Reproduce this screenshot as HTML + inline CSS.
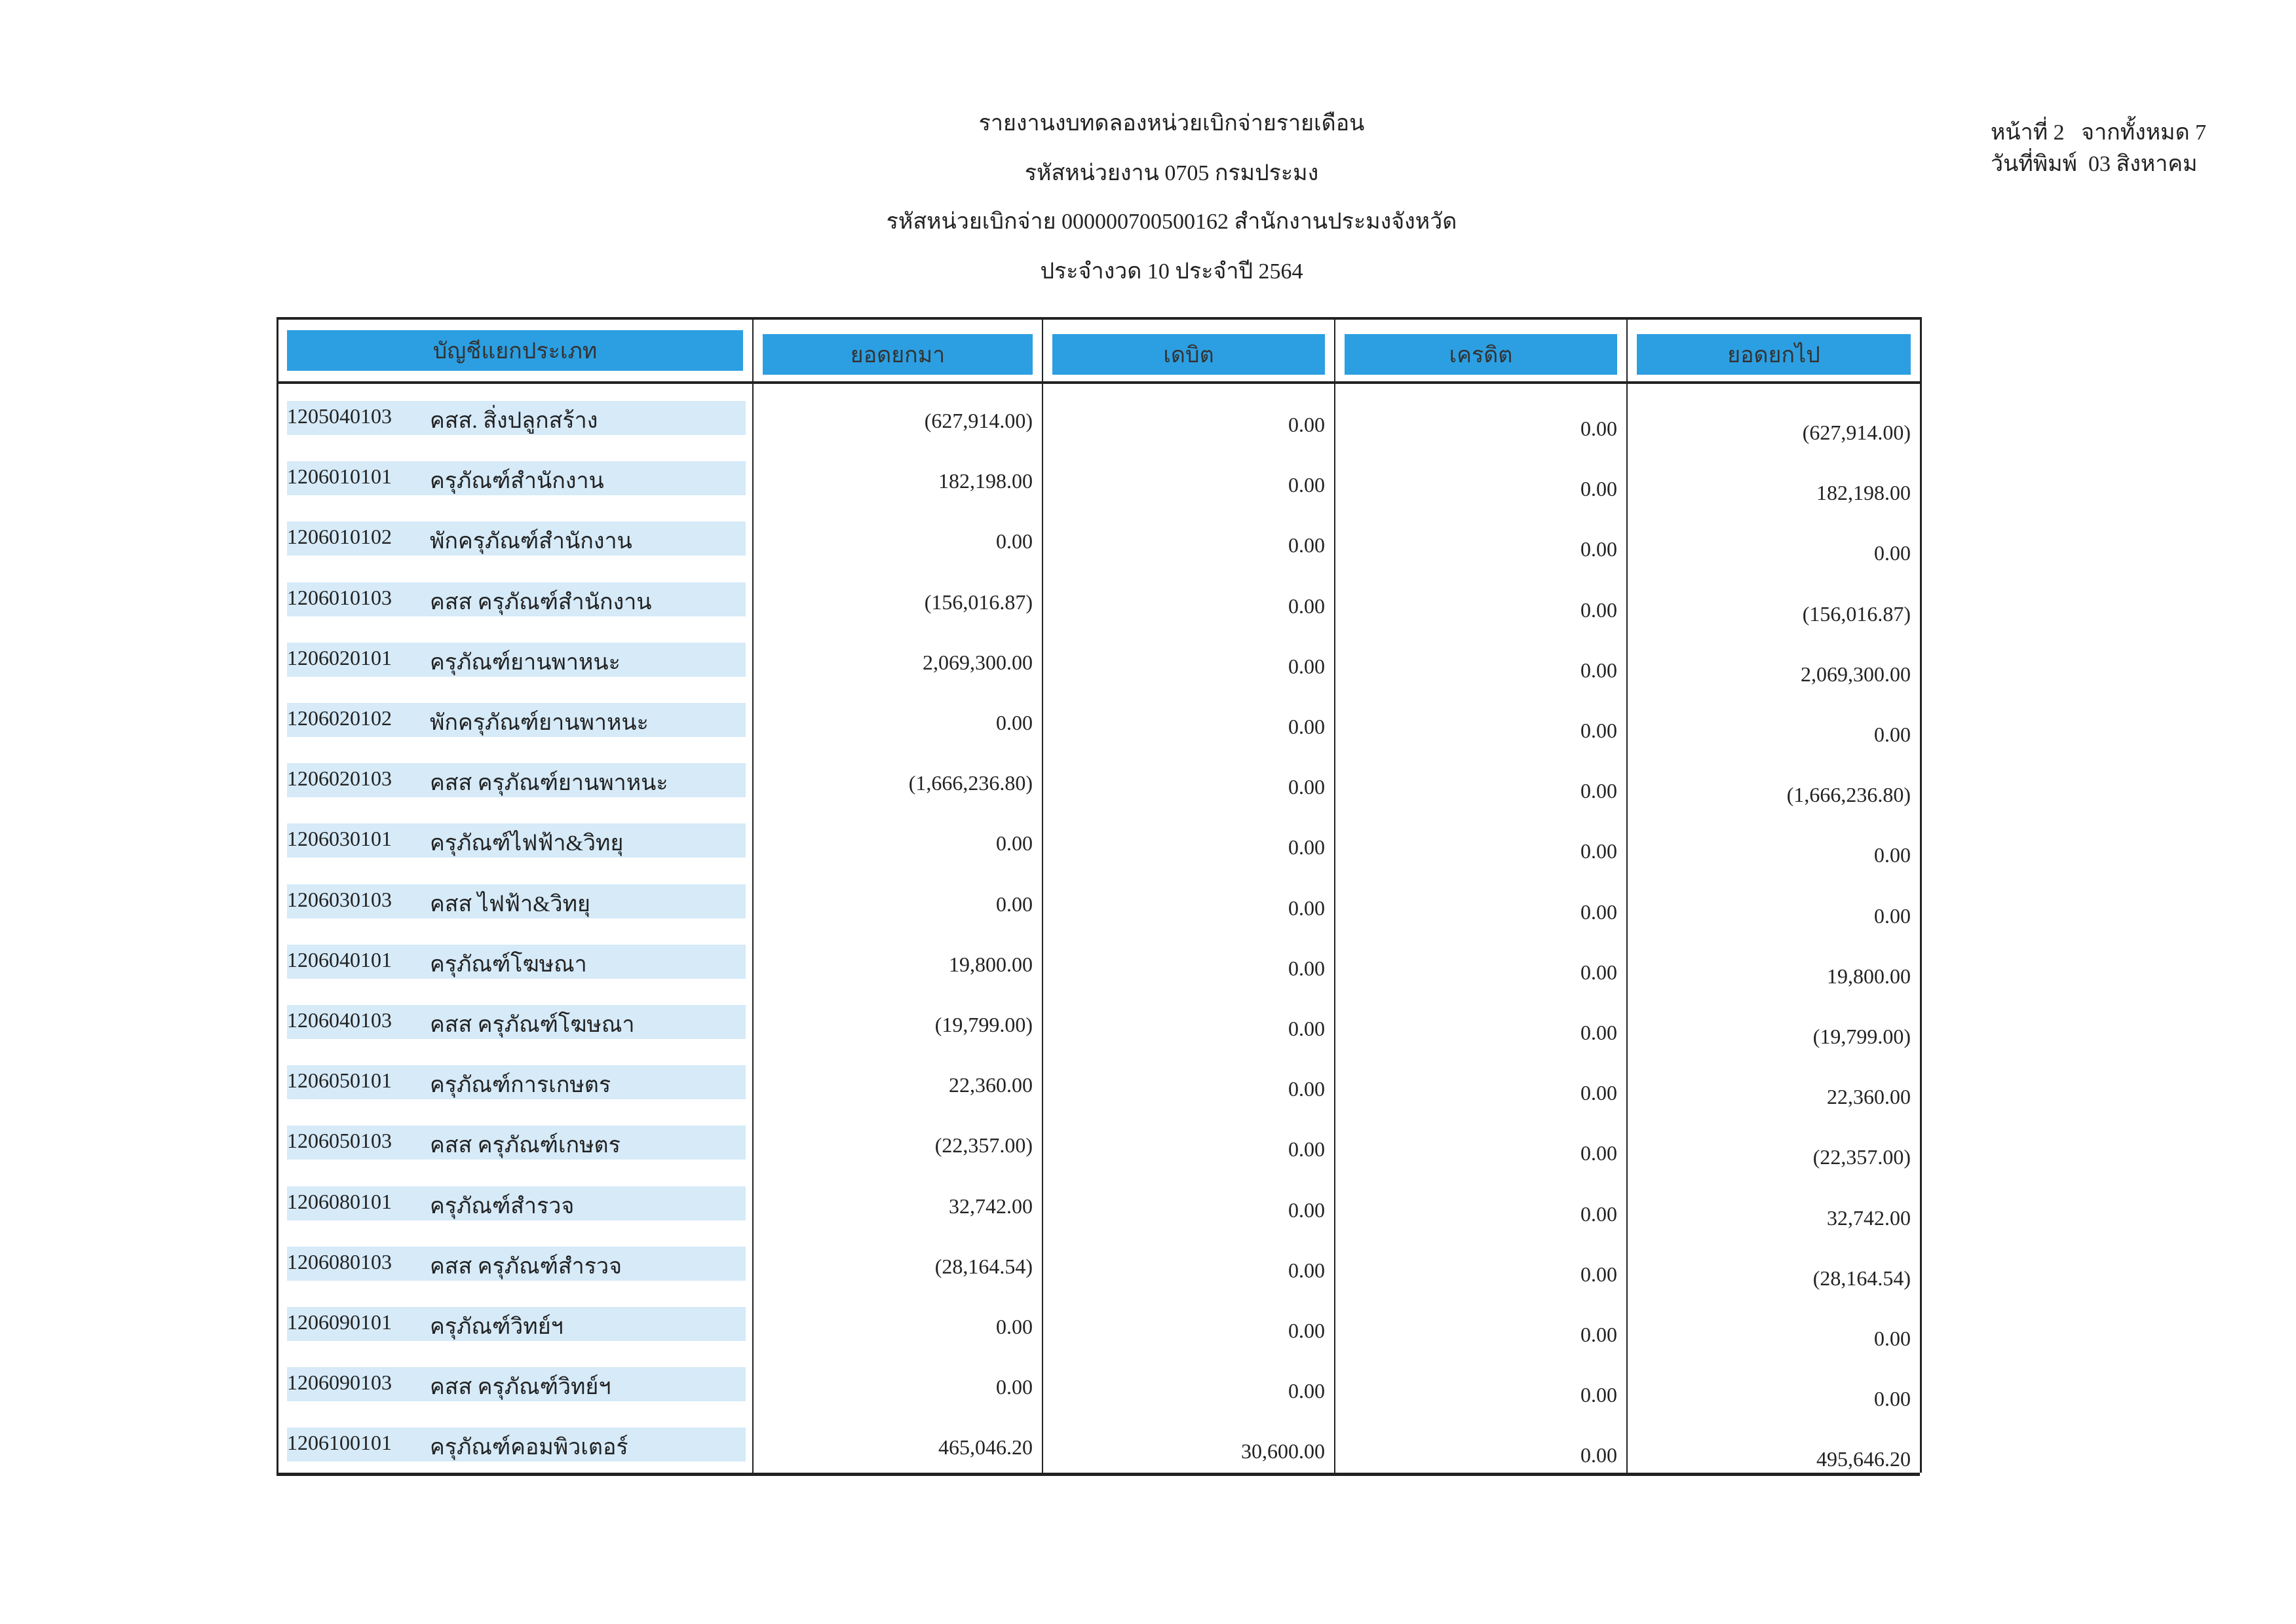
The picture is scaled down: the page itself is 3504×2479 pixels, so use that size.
<!DOCTYPE html>
<html><head><meta charset="utf-8">
<style>
html,body{margin:0;padding:0;background:#fff;}
body{width:3504px;height:2479px;position:relative;overflow:hidden;font-family:"Liberation Serif",serif;color:#222;}
.t{position:absolute;white-space:nowrap;font-size:34px;}
.c{transform:translateX(-50%);}
.line{position:absolute;background:#222;}
.hb{position:absolute;background:#2c9fe2;height:62px;display:flex;align-items:center;justify-content:center;font-size:34px;color:#333;}
.strip{position:absolute;background:#d6eaf8;height:52px;}
.num{position:absolute;text-align:right;font-size:32px;width:400px;}
</style></head>
<body>
<div class="t c" style="left:1788px;top:160px">รายงานงบทดลองหน่วยเบิกจ่ายรายเดือน</div>
<div class="t c" style="left:1788px;top:236px">รหัสหน่วยงาน 0705 กรมประมง</div>
<div class="t c" style="left:1788px;top:310px">รหัสหน่วยเบิกจ่าย 000000700500162 สำนักงานประมงจังหวัด</div>
<div class="t c" style="left:1788px;top:386px">ประจำงวด 10 ประจำปี 2564</div>
<div class="t" style="left:3038px;top:174px">หน้าที่ 2 &nbsp;&nbsp;จากทั้งหมด 7</div>
<div class="t" style="left:3038px;top:222px">วันที่พิมพ์ &nbsp;03 สิงหาคม</div>

<div id="tbl"></div>

<script>
const codes=["1205040103","1206010101","1206010102","1206010103","1206020101","1206020102","1206020103","1206030101","1206030103","1206040101","1206040103","1206050101","1206050103","1206080101","1206080103","1206090101","1206090103","1206100101"];
const names=["คสส. สิ่งปลูกสร้าง","ครุภัณฑ์สำนักงาน","พักครุภัณฑ์สำนักงาน","คสส ครุภัณฑ์สำนักงาน","ครุภัณฑ์ยานพาหนะ","พักครุภัณฑ์ยานพาหนะ","คสส ครุภัณฑ์ยานพาหนะ","ครุภัณฑ์ไฟฟ้า&วิทยุ","คสส ไฟฟ้า&วิทยุ","ครุภัณฑ์โฆษณา","คสส ครุภัณฑ์โฆษณา","ครุภัณฑ์การเกษตร","คสส ครุภัณฑ์เกษตร","ครุภัณฑ์สำรวจ","คสส ครุภัณฑ์สำรวจ","ครุภัณฑ์วิทย์ฯ","คสส ครุภัณฑ์วิทย์ฯ","ครุภัณฑ์คอมพิวเตอร์"];
const broughtForward=["(627,914.00)","182,198.00","0.00","(156,016.87)","2,069,300.00","0.00","(1,666,236.80)","0.00","0.00","19,800.00","(19,799.00)","22,360.00","(22,357.00)","32,742.00","(28,164.54)","0.00","0.00","465,046.20"];
const debit=["0.00","0.00","0.00","0.00","0.00","0.00","0.00","0.00","0.00","0.00","0.00","0.00","0.00","0.00","0.00","0.00","0.00","30,600.00"];
const credit=["0.00","0.00","0.00","0.00","0.00","0.00","0.00","0.00","0.00","0.00","0.00","0.00","0.00","0.00","0.00","0.00","0.00","0.00"];
const carriedForward=["(627,914.00)","182,198.00","0.00","(156,016.87)","2,069,300.00","0.00","(1,666,236.80)","0.00","0.00","19,800.00","(19,799.00)","22,360.00","(22,357.00)","32,742.00","(28,164.54)","0.00","0.00","495,646.20"];
const headers=["บัญชีแยกประเภท","ยอดยกมา","เดบิต","เครดิต","ยอดยกไป"];

const T=document.getElementById('tbl');
const colX=[422,1148,1590,2036,2482,2930];
const tableTop=484,hdrBot=582,bot=2248;
function add(cls,style,txt){const d=document.createElement('div');d.className=cls;d.setAttribute('style',style);if(txt!==undefined)d.textContent=txt;T.appendChild(d);return d;}
let e=add('line',`left:${colX[0]}px;top:${tableTop}px;width:${colX[5]-colX[0]}px;height:4px`);


e=add('line',`left:${colX[0]}px;top:${hdrBot}px;width:${colX[5]-colX[0]}px;height:4px`);


e=add('line',`left:${colX[0]}px;top:${bot}px;width:${colX[5]-colX[0]}px;height:5px`);


colX.forEach((x,i)=>{
  e=add('line',`left:${x}px;top:${tableTop}px;width:${i==0||i==5?3:2}px;height:${bot-tableTop}px`);
  
  
});
headers.forEach((h,i)=>{
  const x0=colX[i]+16,x1=colX[i+1]-14;
  e=add('hb',`left:${x0}px;top:${i==0?504:510}px;width:${x1-x0}px`,h);
  
  
});
const rowY0=612,pitch=92.2;
codes.forEach((c,r)=>{
  const y=rowY0+r*pitch;
  e=add('strip',`left:438px;top:${y}px;width:700px`);
  
  
  e=add('t',`left:438px;top:${y+5}px;font-size:32px`,c);
  
  
  e=add('t',`left:656px;top:${y+2}px;font-size:34px`,names[r]);
  
  
  const vals=[broughtForward[r],debit[r],credit[r],carriedForward[r]];
  vals.forEach((v,k)=>{
    const right=colX[k+2]-14;
    e=add('num',`left:${right-400}px;top:${y+12+k*6}px`,v);
    
    
  });
});
</script>
</body></html>
